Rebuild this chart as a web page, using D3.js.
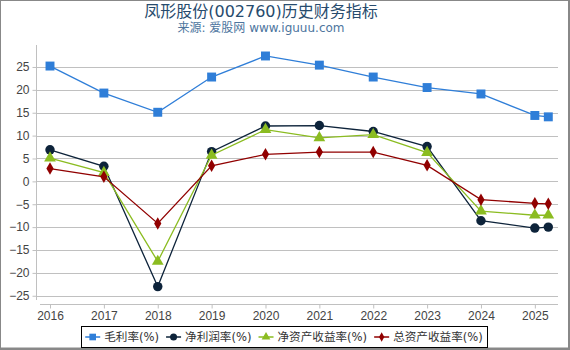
<!DOCTYPE html>
<html>
<head>
<meta charset="utf-8">
<script src="https://cdn.jsdelivr.net/npm/d3@7/dist/d3.min.js"></script>
<style>
  html, body { margin: 0; padding: 0; background: #fff; }
  svg { display: block; font-family: "DejaVu Sans", "Noto Sans CJK SC", sans-serif; }
</style>
</head>
<body>
<div id="chart"></div>
<script>
// 凤形股份 历史财务指标 — 四条折线, 年度 + 最新一期
const years = [2016, 2017, 2018, 2019, 2020, 2021, 2022, 2023, 2024, 2025, 2025.25];
const grossMargin = [25.2, 19.3, 15.1, 22.8, 27.4, 25.4, 22.8, 20.5, 19.1, 14.4, 14.1];
const netMargin = [6.9, 3.3, -23.0, 6.5, 12.1, 12.2, 10.9, 7.6, -8.6, -10.2, -10.0];
const roe = [5.1, 1.9, -17.5, 5.7, 11.3, 9.5, 10.2, 6.3, -6.5, -7.4, -7.4];
const roa = [2.8, 1.0, -9.2, 3.4, 5.9, 6.4, 6.4, 3.5, -4.0, -4.8, -4.9];
const yTicks = [-25, -20, -15, -10, -5, 0, 5, 10, 15, 20, 25];
const xTicks = [2016, 2017, 2018, 2019, 2020, 2021, 2022, 2023, 2024, 2025];

const SERIES = [
  { label: '毛利率(%)', values: grossMargin, color: '#2f7ed8', symbol: d3.symbolSquare, size: 80 },
  { label: '净利润率(%)', values: netMargin, color: '#0d233a', symbol: d3.symbolCircle, size: 70 },
  { label: '净资产收益率(%)', values: roe, color: '#8bbc21', symbol: d3.symbolTriangle, size: 60 },
  { label: '总资产收益率(%)', values: roa, color: '#910000', symbol: d3.symbolDiamond, size: 45 },
];

const width = 570, height = 350;
const M = { left: 36, right: 558, top: 45, bottom: 304 };

const svg = d3.select('#chart').append('svg').attr('width', width).attr('height', height);

// 外框
svg.append('rect').attr('x', 0.5).attr('y', 0.5).attr('width', 568).attr('height', 347.5)
  .attr('fill', 'none').attr('stroke', '#888').attr('stroke-width', 1);
svg.append('line').attr('x1', 569).attr('x2', 569).attr('y1', 0).attr('y2', 350).attr('stroke', '#888').attr('stroke-width', 2);
svg.append('line').attr('x1', 0).attr('x2', 570).attr('y1', 349).attr('y2', 349).attr('stroke', '#888').attr('stroke-width', 2);

svg.append('text').attr('x', 261).attr('y', 17).attr('text-anchor', 'middle')
  .attr('fill', '#274b6d').attr('font-size', '16px')
  .text('凤形股份(002760)历史财务指标');
svg.append('text').attr('x', 261).attr('y', 32).attr('text-anchor', 'middle')
  .attr('fill', '#4d759e').attr('font-size', '12px')
  .text('来源: 爱股网 www.iguuu.com');

const x = d3.scaleLinear().domain([2015.74, 2025.43]).range([M.left, M.right]);
const y = d3.scaleLinear().domain([-26.8, 29.8]).range([M.bottom, M.top]);

// 网格
svg.append('g').selectAll('line').data(yTicks).join('line')
  .attr('x1', M.left).attr('x2', M.right)
  .attr('y1', d => Math.round(y(d)) + 0.5).attr('y2', d => Math.round(y(d)) + 0.5)
  .attr('stroke', '#c0c0c0').attr('stroke-width', 1);

const yAxis = svg.append('g').attr('transform', `translate(${M.left + 0.5},0)`)
  .call(d3.axisLeft(y).tickValues(yTicks).tickSize(4).tickPadding(3));
yAxis.select('.domain').attr('stroke', '#c0c0c0').attr('d', `M0,${M.top}V${M.bottom - 4}`);
yAxis.selectAll('.tick line').attr('stroke', '#c0c0c0');
yAxis.selectAll('text').attr('fill', '#444').attr('font-size', '12px');

const xAxis = svg.append('g').attr('transform', `translate(0,${M.bottom + 0.5})`)
  .call(d3.axisBottom(x).tickValues(xTicks).tickFormat(d3.format('d')).tickSize(4).tickPadding(3));
xAxis.select('.domain').attr('stroke', '#c0c0c0').attr('d', `M${M.left + 4},0H${M.right}`);
xAxis.selectAll('.tick line').attr('stroke', '#c0c0c0');
xAxis.selectAll('text').attr('fill', '#444').attr('font-size', '12px');

const line = vals => d3.line().x((d, i) => x(years[i])).y(d => y(d))(vals);

SERIES.forEach(S => {
  svg.append('path').attr('d', line(S.values))
    .attr('fill', 'none').attr('stroke', S.color).attr('stroke-width', 1.3);
  svg.append('g').selectAll('path').data(S.values).join('path')
    .attr('transform', (d, i) => `translate(${x(years[i])},${y(d)})`)
    .attr('d', d3.symbol().type(S.symbol).size(S.size))
    .attr('fill', S.color);
});

// 图例
const box = svg.append('rect');
const lg = svg.append('g');
let cx = 0;
SERIES.forEach(S => {
  const it = lg.append('g').attr('transform', `translate(${cx},0)`);
  it.append('line').attr('x1', 0).attr('x2', 15).attr('y1', 0).attr('y2', 0)
    .attr('stroke', S.color).attr('stroke-width', 1.5);
  it.append('path').attr('transform', 'translate(7.5,0)')
    .attr('d', d3.symbol().type(S.symbol).size(S.size * 0.55)).attr('fill', S.color);
  const t = it.append('text').attr('x', 19).attr('y', 0).attr('dy', '0.35em')
    .attr('fill', '#333').attr('font-size', '11.6px').text(S.label);
  cx += 19 + t.node().getComputedTextLength() + 7;
});
const lgW = cx - 7;
const lgX = 284 - lgW / 2;
lg.attr('transform', `translate(${lgX},337)`);
box.attr('x', Math.round(lgX - 4) + 0.5).attr('y', 326.5).attr('width', Math.round(lgW + 8)).attr('height', 21)
  .attr('fill', '#fff').attr('stroke', '#000').attr('stroke-width', 1);
</script>
</body>
</html>
